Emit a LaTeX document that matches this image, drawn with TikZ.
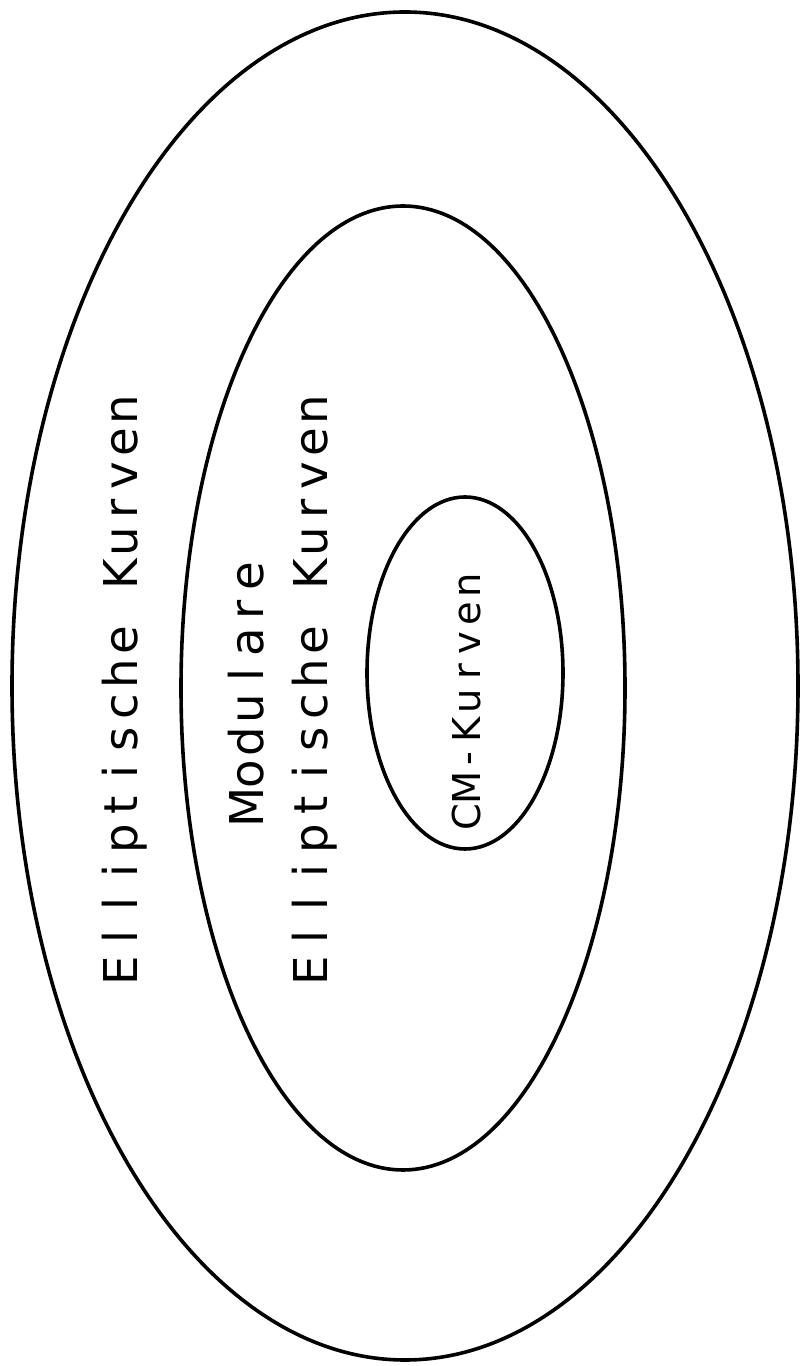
\documentclass[tikz,border=0pt]{standalone}
\usepackage{fontspec}
\setmainfont{DejaVu Sans}
\usetikzlibrary{shapes.geometric}
\newlength\cellw
\def\plotA#1{\ifx\relax#1\else\makebox[\cellw]{#1}\expandafter\plotA\fi}
\newcommand\plottext[2]{\setlength\cellw{#1}\plotA#2\relax}
\tikzset{
  ring/.style={draw, ellipse, line width=3.6pt, inner sep=0pt},
  bigtext/.style={rotate=90, anchor=base, inner sep=0pt, font=\fontsize{46.6}{50}\selectfont},
  smalltext/.style={rotate=90, anchor=base, inner sep=0pt, font=\fontsize{38.4}{42}\selectfont}
}
\begin{document}
\begin{tikzpicture}[x=1pt,y=1pt]
\useasboundingbox (0,0) rectangle (804,1366);
\node[ring, minimum width=786pt, minimum height=1348pt] (outer) at (405,680) {};
\node[ring, minimum width=444pt, minimum height=964pt] (middle) at (403,678) {};
\node[ring, minimum width=196pt, minimum height=352pt] (inner) at (465,693) {};
\node[bigtext] (t1) at (137,676) {\plottext{33pt}{Elliptische~Kurven}};
\node[bigtext] (t2) at (263,674) {\plottext{33pt}{Modulare}};
\node[bigtext] (t3) at (327,676) {\plottext{33pt}{Elliptische~Kurven}};
\node[smalltext] (t4) at (480,665) {\plottext{29pt}{CM-Kurven}};
\end{tikzpicture}
\end{document}
